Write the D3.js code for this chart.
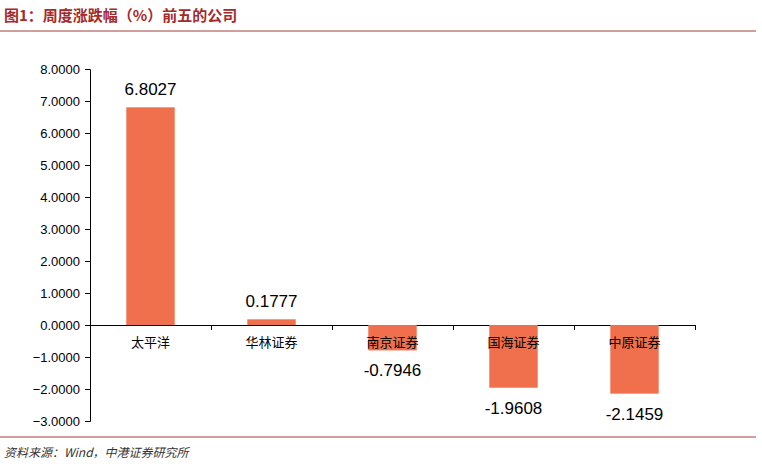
<!DOCTYPE html>
<html><head><meta charset="utf-8">
<script src="https://cdn.jsdelivr.net/npm/d3@7"></script>
<style>body{margin:0;background:#fff}</style></head>
<body><svg id="c" width="762" height="466"></svg>
<script>
const categories=["太平洋","华林证券","南京证券","国海证券","中原证券"];
const values=[6.8027,0.1777,-0.7946,-1.9608,-2.1459];
const yTicks=[8,7,6,5,4,3,2,1,0,-1,-2,-3];
const svg=d3.select("#c");
const font="'Noto Sans CJK SC','Noto Sans',sans-serif";
svg.append("text").attr("x",4).attr("y",21).attr("fill","#A52A2A").attr("font-weight","bold")
 .attr("font-size",15).attr("font-family",font).text("图1：周度涨跌幅（%）前五的公司");
svg.append("line").attr("x1",0).attr("x2",756).attr("y1",31).attr("y2",31).attr("stroke","#A0403A").attr("stroke-width",1);
svg.append("line").attr("x1",0).attr("x2",756).attr("y1",437).attr("y2",437).attr("stroke","#A0403A").attr("stroke-width",1);
svg.append("text").attr("x",4).attr("y",457).attr("font-size",12).attr("font-style","italic").attr("fill","#333")
 .attr("font-family",font).text("资料来源：Wind，中港证券研究所");
const y=d3.scaleLinear().domain([-3,8]).range([421,69]);
const x=d3.scaleBand().domain(categories).range([90,695]).paddingInner(0.6).paddingOuter(0.3);
const ya=svg.append("g").attr("transform","translate(90,0)")
 .call(d3.axisLeft(y).tickValues(yTicks).tickFormat(d3.format(".4f")).tickSize(5));
ya.selectAll("text").attr("font-size",13).attr("font-family","Liberation Sans, Arial").attr("fill","#000").attr("dx",-2);
ya.selectAll("line,path").attr("stroke","#000");
const xa=svg.append("g").attr("transform",`translate(0,${y(0)})`)
 .call(d3.axisBottom(d3.scalePoint().domain(d3.range(6)).range([90,695])).tickSize(5).tickFormat(""));
xa.selectAll("line,path").attr("stroke","#000");
svg.selectAll("rect.b").data(values).join("rect").attr("x",(d,i)=>x(categories[i]))
 .attr("width",x.bandwidth()).attr("y",d=>y(Math.max(0,d))).attr("height",d=>Math.abs(y(d)-y(0)))
 .attr("fill","#F0704D");
svg.selectAll("text.c").data(categories).join("text").attr("x",d=>x(d)+x.bandwidth()/2).attr("y",y(0)+22)
 .attr("text-anchor","middle").attr("font-size",13).attr("font-family",font).text(d=>d);
svg.selectAll("text.v").data(values).join("text").attr("x",(d,i)=>x(categories[i])+x.bandwidth()/2)
 .attr("y",d=>d>=0?y(d)-12:y(d)+26).attr("text-anchor","middle").attr("font-size",17)
 .attr("font-family","Liberation Sans, Arial").text(d=>d.toFixed(4));
</script></body></html>
